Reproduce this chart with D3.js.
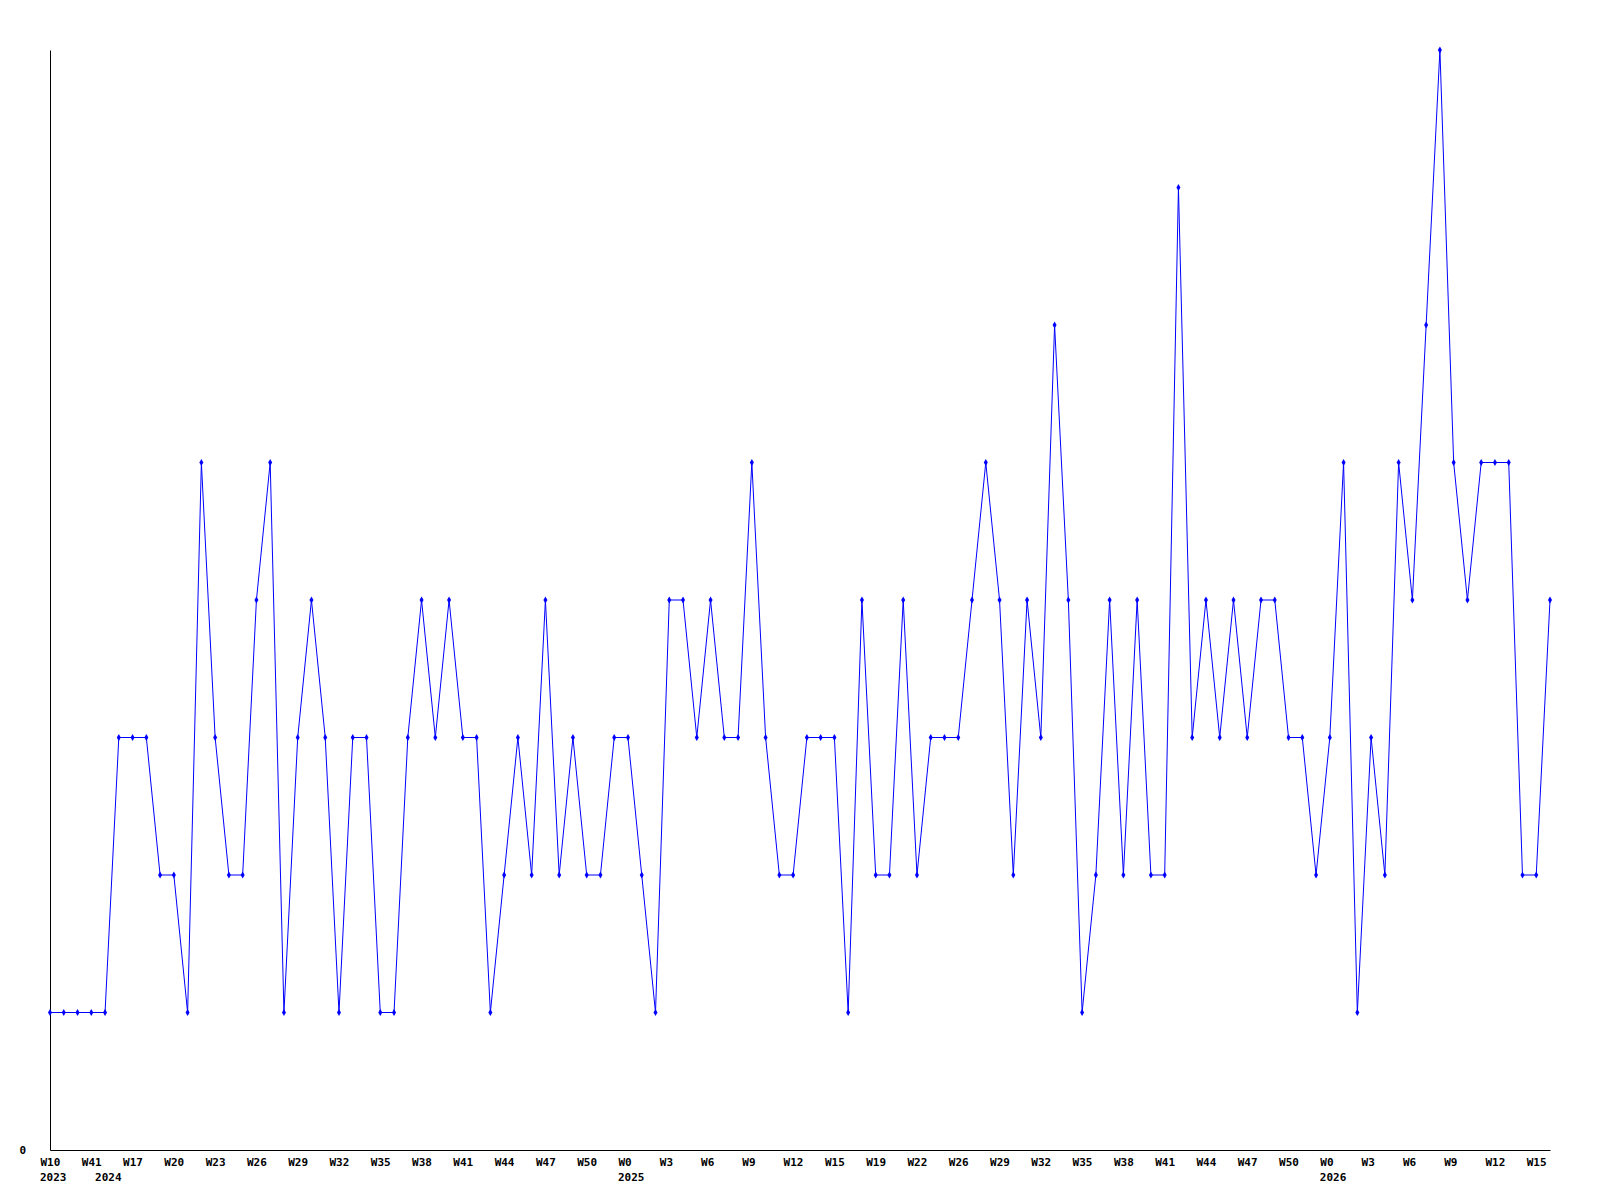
<!DOCTYPE html>
<html>
<head>
<meta charset="utf-8">
<script src="https://cdn.jsdelivr.net/npm/d3@7"></script>
<style>
  body { margin: 0; background: #fff; }
  text { font-family: "DejaVu Sans Mono", monospace; font-weight: bold; font-size: 11px; fill: #000; }
</style>
</head>
<body>
<div id="chart"></div>
<script>
// weekly counts, one per point
var values = [1,1,1,1,1, 3,3,3, 2,2, 1, 5, 3, 2,2, 4, 5, 1, 3, 4, 3, 1, 3,3, 1,1, 3, 4, 3, 4, 3,3,
  1, 2, 3, 2, 4, 2, 3, 2,2, 3,3, 2, 1, 4,4, 3, 4, 3,3, 5, 3, 2,2, 3,3,3, 1, 4, 2,2, 4, 2,
  3,3,3, 4, 5, 4, 2, 4, 3, 6, 4, 1, 2, 4, 2, 4, 2,2, 7, 3, 4, 3, 4, 3, 4,4, 3,3, 2, 3, 5,
  1, 3, 2, 5, 4, 6, 8, 5, 4, 5,5,5, 2,2, 4];
// tick label every 3rd point
var tickLabels = ["W10","W41","W17","W20","W23","W26","W29","W32","W35","W38","W41","W44","W47","W50",
  "W0","W3","W6","W9","W12","W15","W19","W22","W26","W29","W32","W35","W38","W41","W44","W47","W50",
  "W0","W3","W6","W9","W12","W15"];
var yearLabels = ["2023","2024","2025","2026"];
var yearIndex = [0, 4, 42, 93];

var width = 1600, height = 1200;
var svg = d3.select("#chart").append("svg")
    .attr("width", width)
    .attr("height", height);

var xScale = d3.scaleLinear()
    .domain([0, values.length - 1])
    .range([50, 1550]);
var yScale = d3.scaleLinear()
    .domain([0, 8])
    .range([1150, 50]);

var xAxis = d3.axisBottom(xScale)
    .tickValues(tickLabels.map((d, i) => i * 3))
    .tickFormat((d, i) => tickLabels[i])
    .tickSize(0)
    .tickSizeOuter(0);
var gx = svg.append("g")
    .attr("transform", "translate(0,1150)")
    .call(xAxis);
gx.select(".domain").attr("stroke", "#000");
gx.selectAll("text")
    .attr("text-anchor", "start")
    .attr("font-family", null)
    .attr("font-size", null)
    .attr("x", -10)
    .attr("y", 0)
    .attr("dy", "16px");

svg.selectAll(".year")
    .data(yearLabels)
    .enter()
    .append("text")
    .attr("class", "year")
    .attr("x", (d, i) => xScale(yearIndex[i]) - 10)
    .attr("y", 1181)
    .text(d => d);

var yAxis = d3.axisLeft(yScale)
    .tickValues([0])
    .tickSize(0)
    .tickSizeOuter(0)
    .tickPadding(24);
var gy = svg.append("g")
    .attr("transform", "translate(50,0)")
    .call(yAxis);
gy.select(".domain").attr("stroke", "#000");
gy.selectAll("text")
    .attr("font-family", null)
    .attr("font-size", null)
    .attr("dy", "3px");

var line = d3.line()
    .x((d, i) => xScale(i))
    .y(d => yScale(d));
svg.append("path")
    .datum(values)
    .attr("fill", "none")
    .attr("stroke", "#0000ff")
    .attr("stroke-width", 1)
    .attr("d", line);

svg.append("g")
    .selectAll("path")
    .data(values)
    .enter()
    .append("path")
    .attr("transform", (d, i) => "translate(" + xScale(i) + "," + yScale(d) + ")")
    .attr("d", d3.symbol(d3.symbolDiamond, 14))
    .attr("fill", "#0000ff");
</script>
</body>
</html>
